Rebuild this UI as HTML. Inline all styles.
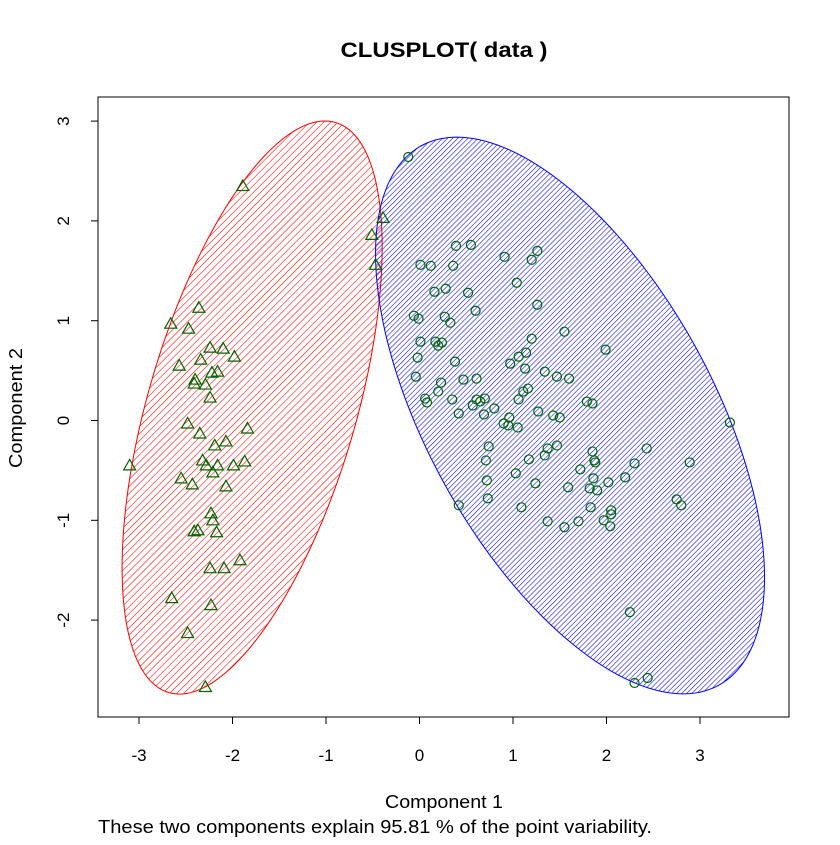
<!DOCTYPE html>
<html><head><meta charset="utf-8"><style>
body{margin:0;background:#fff}
svg text{font-family:"Liberation Sans",Arial,sans-serif;fill:#000}
</style></head><body>
<svg id="chart" width="840" height="840" viewBox="0 0 840 840" xmlns="http://www.w3.org/2000/svg">
<defs>
<pattern id="hatchRed" patternUnits="userSpaceOnUse" width="5" height="5" patternTransform="rotate(45)"><line x1="0" y1="0" x2="0" y2="5" stroke="#ff0000" stroke-width="1.1"/></pattern>
<pattern id="hatchBlue" patternUnits="userSpaceOnUse" width="3.6" height="3.6" patternTransform="rotate(45)"><line x1="0" y1="0" x2="0" y2="3.6" stroke="#0000ff" stroke-width="1.1"/></pattern>
<clipPath id="plotClip"><rect x="98" y="97" width="691" height="620"/></clipPath>
</defs>
<text x="444" y="57" text-anchor="middle" font-size="21" font-weight="bold" textLength="207" lengthAdjust="spacingAndGlyphs">CLUSPLOT( data )</text>
<rect x="98" y="97" width="691" height="620" fill="none" stroke="#000" stroke-width="1"/>
<g id="ellipses" clip-path="url(#plotClip)"></g>
<g id="points"></g>
<g id="xaxis"></g>
<g id="yaxis"></g>
<text x="444" y="808" text-anchor="middle" font-size="18" textLength="118" lengthAdjust="spacingAndGlyphs">Component 1</text>
<text transform="translate(22,408) rotate(-90)" text-anchor="middle" font-size="18" textLength="120" lengthAdjust="spacingAndGlyphs">Component 2</text>
<text x="375" y="833" text-anchor="middle" font-size="18" textLength="554" lengthAdjust="spacingAndGlyphs">These two components explain 95.81 % of the point variability.</text>
</svg>
<script>
const xTicks=[-3,-2,-1,0,1,2,3];
const yTicks=[-2,-1,0,1,2,3];
const ellipseCenters=[[-1.79,0.13],[1.61,0.05]];
const cluster1=[[-1.89,2.35],[-0.39,2.03],[-0.51,1.86],[-0.47,1.56],[-2.36,1.13],[-2.66,0.97],[-2.47,0.92],[-2.10,0.72],[-2.24,0.73],[-1.98,0.64],[-2.34,0.61],[-2.57,0.55],[-2.40,0.41],[-2.22,0.48],[-2.16,0.49],[-2.41,0.37],[-2.29,0.36],[-2.24,0.23],[-2.48,-0.03],[-1.84,-0.08],[-2.35,-0.13],[-2.19,-0.25],[-2.07,-0.21],[-2.32,-0.40],[-2.28,-0.45],[-2.16,-0.45],[-3.10,-0.45],[-2.21,-0.52],[-1.99,-0.45],[-1.87,-0.41],[-2.55,-0.58],[-2.43,-0.64],[-2.07,-0.66],[-2.23,-0.93],[-2.21,-1.00],[-2.37,-1.10],[-2.17,-1.12],[-2.41,-1.11],[-2.24,-1.48],[-2.09,-1.48],[-1.92,-1.40],[-2.65,-1.78],[-2.23,-1.85],[-2.48,-2.13],[-2.29,-2.67]];
const cluster2=[[-0.12,2.64],[0.01,1.56],[0.12,1.55],[0.39,1.75],[0.55,1.76],[0.36,1.55],[0.91,1.64],[1.20,1.61],[1.26,1.70],[1.04,1.38],[0.16,1.29],[0.28,1.32],[0.27,1.04],[1.26,1.16],[-0.06,1.05],[-0.01,1.02],[0.33,0.98],[0.17,0.79],[0.24,0.78],[-0.04,0.44],[0.20,0.75],[0.38,0.59],[1.20,0.82],[1.14,0.68],[1.55,0.89],[1.99,0.71],[1.06,0.64],[0.97,0.57],[0.23,0.38],[0.47,0.41],[0.61,0.42],[1.13,0.52],[1.34,0.49],[1.47,0.44],[1.60,0.42],[0.20,0.29],[0.06,0.22],[0.08,0.18],[0.35,0.21],[0.61,0.21],[0.70,0.22],[0.80,0.12],[1.11,0.29],[1.16,0.32],[1.06,0.21],[0.42,0.07],[0.57,0.15],[0.69,0.06],[0.96,0.03],[0.90,-0.03],[0.95,-0.05],[1.27,0.09],[1.43,0.05],[1.79,0.19],[1.85,0.17],[1.05,-0.07],[0.74,-0.26],[1.47,-0.25],[1.37,-0.28],[1.34,-0.35],[1.85,-0.31],[1.87,-0.40],[1.88,-0.42],[0.71,-0.40],[1.17,-0.39],[1.72,-0.49],[2.43,-0.28],[2.30,-0.43],[2.89,-0.42],[3.32,-0.02],[0.72,-0.60],[1.03,-0.53],[1.24,-0.63],[1.59,-0.67],[1.82,-0.68],[1.90,-0.70],[1.86,-0.58],[2.02,-0.62],[2.20,-0.57],[0.73,-0.78],[0.42,-0.85],[1.09,-0.87],[1.37,-1.01],[1.55,-1.07],[1.70,-1.01],[1.97,-1.00],[2.05,-0.90],[2.05,-0.94],[1.83,-0.87],[2.04,-1.06],[2.75,-0.79],[2.80,-0.85],[2.25,-1.92],[2.44,-2.58],[2.30,-2.63],[-0.02,0.63],[0.52,1.28],[0.60,1.10],[0.01,0.79],[0.65,0.19],[1.50,0.03]];
const NS='http://www.w3.org/2000/svg';
const sx=v=>419.5+v*93.5;
const sy=v=>420.5-v*99.8;
function mk(tag,attrs,parent){const e=document.createElementNS(NS,tag);for(const k in attrs)e.setAttribute(k,attrs[k]);parent.appendChild(e);return e;}
const eg=document.getElementById('ellipses');
const eStyles=[{rx:104,ry:297,rot:16.3,stroke:'#ff0000',fill:'url(#hatchRed)'},{rx:143,ry:308,rot:-28.9,stroke:'#0000ff',fill:'url(#hatchBlue)'}];
ellipseCenters.forEach((c,i)=>{const s=eStyles[i];const cx=sx(c[0]),cy=sy(c[1]);
const th=s.rot*Math.PI/180;let d='';
for(let k=0;k<=180;k++){const t=k/180*2*Math.PI;const ex=s.rx*Math.cos(t),ey=s.ry*Math.sin(t);
const px=cx+ex*Math.cos(th)-ey*Math.sin(th),py=cy+ex*Math.sin(th)+ey*Math.cos(th);
d+=(k?'L':'M')+px.toFixed(2)+','+py.toFixed(2);}
const el=mk('path',{d:d+'Z',fill:s.fill,stroke:s.stroke,'stroke-width':1},eg);

});
const pg=document.getElementById('points');
cluster1.forEach(p=>{const x=sx(p[0]),y=sy(p[1]);
const t=mk('polygon',{points:`${x},${y-6} ${x-6},${y+4.5} ${x+6},${y+4.5}`,fill:'none',stroke:'#006400','stroke-width':1.2},pg);

});
cluster2.forEach(p=>{
const c=mk('circle',{cx:sx(p[0]),cy:sy(p[1]),r:4.5,fill:'none',stroke:'#006400','stroke-width':1.2},pg);

});
const xg=document.getElementById('xaxis');
mk('line',{x1:sx(xTicks[0]),x2:sx(xTicks[xTicks.length-1]),y1:717,y2:717,stroke:'#000'},xg);
xTicks.forEach(v=>{mk('line',{x1:sx(v),x2:sx(v),y1:717,y2:724,stroke:'#000'},xg);
const t=mk('text',{x:sx(v),y:761,'text-anchor':'middle','font-size':17},xg);t.textContent=v;

});
const yg=document.getElementById('yaxis');
mk('line',{x1:98,x2:98,y1:sy(yTicks[0]),y2:sy(yTicks[yTicks.length-1]),stroke:'#000'},yg);
yTicks.forEach(v=>{mk('line',{x1:91,x2:98,y1:sy(v),y2:sy(v),stroke:'#000'},yg);
const t=mk('text',{transform:`translate(69,${sy(v)}) rotate(-90)`,'text-anchor':'middle','font-size':17},yg);t.textContent=v;

});
</script>
</body></html>
